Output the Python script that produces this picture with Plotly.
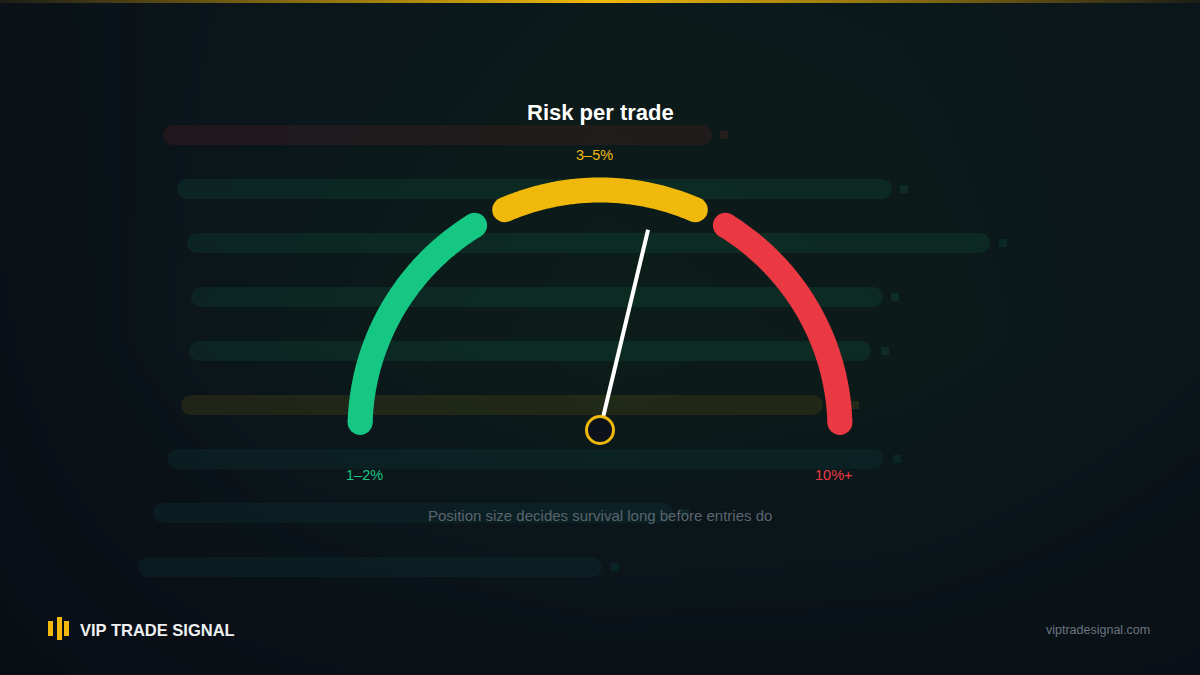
import numpy as np
import plotly.graph_objects as go

# Gauge data (scale 0-100, drawn left to right over a half circle)
zone_labels = ["1–2%", "3–5%", "10%+"]
zone_start = [1, 37, 67.5]
zone_end = [32.5, 63, 99]
zone_colors = ["#16c784", "#f0b90b", "#ea3943"]
needle_value = 57.5

# Faint background bars (start / end in px along x, one per row)
bar_start = [163, 177, 187, 191, 189, 181, 168, 153, 138]
bar_end = [712, 892, 990, 883, 871, 823, 884, 673, 602]
bar_dot = [724, 904, 1003, 895, 885, 855, 897, 685, 615]
bar_tone = ["red", "green", "green", "green", "green", "yellow", "teal", "teal", "teal"]

W, H = 1200, 675
CX, CY, R = 600, 430, 240
ARC_W = 25

tone_colors = {"red": "#ea3943", "green": "#16c784", "yellow": "#f0b90b", "teal": "#14a89a"}


def val_to_xy(v, radius=R):
    ang = np.radians(180 - v * 1.8)
    return CX + radius * np.cos(ang), CY - radius * np.sin(ang)


fig = go.Figure()

# Background glow
fig.add_trace(go.Heatmap(
    x=[0, 300, 600, 900, 1200], y=[0, 340, 675],
    z=[[0.25, 0.55, 0.75, 0.7, 0.55],
       [0.15, 0.7, 1.0, 0.85, 0.5],
       [0.0, 0.15, 0.25, 0.25, 0.15]],
    zsmooth="best", showscale=False, hoverinfo="skip",
    colorscale=[[0, "#090e15"], [0.5, "#0b151a"], [1, "#0c1d19"]],
))

# Gold line on top
fig.add_trace(go.Heatmap(
    x=[0, 200, 600, 1000, 1200], y=[0.5, 2],
    z=[[0, 0.35, 1, 0.35, 0], [0, 0.35, 1, 0.35, 0]],
    zsmooth="best", showscale=False, hoverinfo="skip",
    colorscale=[[0, "#1c1d17"], [1, "#f0b90b"]],
))

# Faint bars
for i in range(len(bar_start)):
    y = 135 + 54 * i
    col = tone_colors[bar_tone[i]]
    fig.add_trace(go.Scatter(
        x=[bar_start[i] + 10, bar_end[i] - 10], y=[y, y], mode="lines+markers",
        line=dict(color=col, width=20), marker=dict(color=col, size=20),
        opacity=0.09 if bar_tone[i] != "teal" else 0.07, hoverinfo="skip", showlegend=False,
    ))
    fig.add_trace(go.Scatter(
        x=[bar_dot[i]], y=[y], mode="markers",
        marker=dict(symbol="square", color=col, size=8), opacity=0.1,
        hoverinfo="skip", showlegend=False,
    ))

# Gauge arcs
for s, e, c in zip(zone_start, zone_end, zone_colors):
    xs, ys = val_to_xy(np.linspace(s, e, 120))
    fig.add_trace(go.Scatter(x=xs, y=ys, mode="lines",
                             line=dict(color=c, width=ARC_W, simplify=False),
                             hoverinfo="skip", showlegend=False))
    fig.add_trace(go.Scatter(x=[xs[0], xs[-1]], y=[ys[0], ys[-1]], mode="markers",
                             marker=dict(color=c, size=ARC_W), hoverinfo="skip", showlegend=False))

# Needle
nx, ny = val_to_xy(needle_value, 206)
fig.add_trace(go.Scatter(x=[CX, nx], y=[CY, ny], mode="lines",
                         line=dict(color="#ffffff", width=4), hoverinfo="skip", showlegend=False))
fig.add_trace(go.Scatter(x=[CX], y=[CY], mode="markers",
                         marker=dict(color="#0d121a", size=27, line=dict(color="#f0b90b", width=3)),
                         hoverinfo="skip", showlegend=False))

# Logo bars
for lx, top, bot in [(50.5, 621, 636), (59.5, 617, 640), (66.5, 621, 636)]:
    fig.add_shape(type="rect", x0=lx - 2.5, x1=lx + 2.5, y0=top, y1=bot,
                  fillcolor="#f0b90b", line_width=0, layer="above")

font = "Liberation Sans, Arial, sans-serif"
annotations = [
    dict(x=600, y=112, text="<b>Risk per trade</b>", font=dict(size=22, color="#ffffff")),
    dict(x=594, y=155, text=zone_labels[1], font=dict(size=14.5, color=zone_colors[1])),
    dict(x=364, y=475, text=zone_labels[0], font=dict(size=14.5, color=zone_colors[0])),
    dict(x=834, y=475, text=zone_labels[2], font=dict(size=14.5, color=zone_colors[2])),
    dict(x=600, y=515, text="Position size decides survival long before entries do",
         font=dict(size=15, color="#5b6570")),
    dict(x=78, y=630, text="<b>VIP TRADE SIGNAL</b>", xanchor="left",
         font=dict(size=16.5, color="#eef0f2")),
    dict(x=1152, y=630, text="viptradesignal.com", xanchor="right",
         font=dict(size=12.5, color="#6b7480")),
]
for a in annotations:
    a.setdefault("xanchor", "center")
    a["font"]["family"] = font
    fig.add_annotation(xref="x", yref="y", yanchor="middle", showarrow=False, **a)

fig.update_layout(
    width=W, height=H, margin=dict(l=0, r=0, t=0, b=0),
    paper_bgcolor="#0a1017", plot_bgcolor="#0a1017", showlegend=False,
    xaxis=dict(range=[0, W], visible=False, fixedrange=True),
    yaxis=dict(range=[H, 0], visible=False, fixedrange=True),
)

fig.write_html("out.html", config={"displayModeBar": False},
               post_script="document.body.style.margin='0';document.body.style.background='#0a1017';")
